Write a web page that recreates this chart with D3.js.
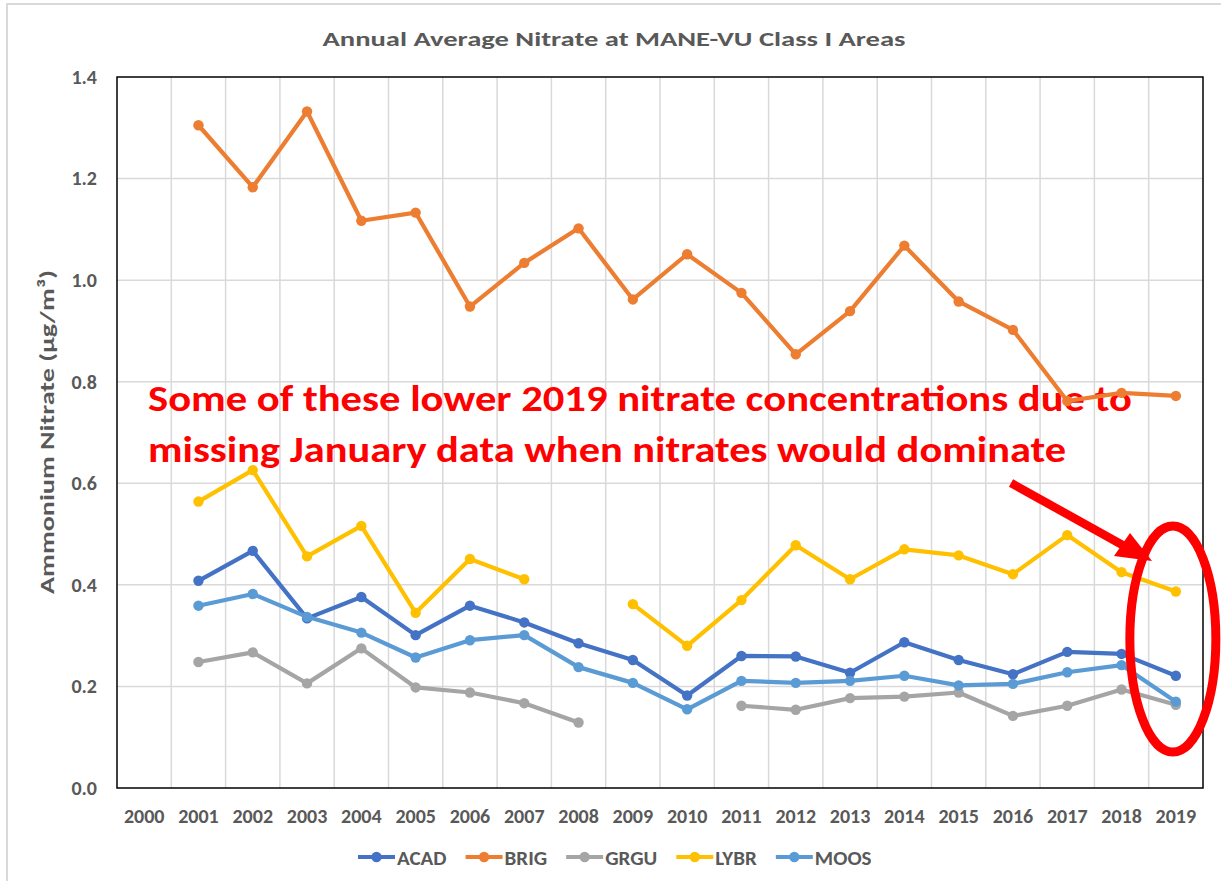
<!DOCTYPE html>
<html>
<head>
<meta charset="utf-8">
<script src="https://cdn.jsdelivr.net/npm/d3@7"></script>
<style>
  html, body { margin: 0; padding: 0; background: #fff; }
  svg { display: block; }
  text { font-family: Calibri, Carlito, "Open Sans", sans-serif; }
</style>
</head>
<body>
<div id="chart"></div>
<script>
// values
var years = ["2000", "2001", "2002", "2003", "2004", "2005", "2006", "2007", "2008", "2009",
	"2010", "2011", "2012", "2013", "2014", "2015", "2016", "2017", "2018", "2019"];
var acad = [null, 0.408, 0.467, 0.334, 0.376, 0.301, 0.359, 0.326, 0.285, 0.252,
	0.182, 0.260, 0.259, 0.227, 0.287, 0.252, 0.224, 0.268, 0.264, 0.221];
var brig = [null, 1.305, 1.183, 1.332, 1.117, 1.133, 0.948, 1.034, 1.102, 0.962,
	1.051, 0.975, 0.854, 0.939, 1.068, 0.958, 0.902, 0.762, 0.778, 0.772];
var grgu = [null, 0.248, 0.267, 0.206, 0.275, 0.198, 0.188, 0.167, 0.129, null,
	null, 0.162, 0.154, 0.177, 0.180, 0.188, 0.142, 0.162, 0.194, 0.164];
var lybr = [null, 0.564, 0.626, 0.456, 0.516, 0.345, 0.451, 0.411, null, 0.362,
	0.280, 0.370, 0.478, 0.411, 0.470, 0.458, 0.421, 0.498, 0.425, 0.387];
var moos = [null, 0.359, 0.382, 0.337, 0.306, 0.257, 0.291, 0.301, 0.238, 0.207,
	0.155, 0.211, 0.207, 0.211, 0.221, 0.202, 0.205, 0.228, 0.242, 0.170];
var seriesNames = ["ACAD", "BRIG", "GRGU", "LYBR", "MOOS"];
var yTicks = [0, 0.2, 0.4, 0.6, 0.8, 1.0, 1.2, 1.4];

var chartTitle = "Annual Average Nitrate at MANE-VU Class I Areas",
	yTitle = "Ammonium Nitrate (\u00b5g/m\u00b3)",
	note = ["Some of these lower 2019 nitrate concentrations due to",
		"missing January data when nitrates would dominate"];

var colors = { ACAD: "#4472C4", BRIG: "#ED7D31", GRGU: "#A5A5A5", LYBR: "#FFC000", MOOS: "#5B9BD5" };
var series = [acad, brig, grgu, lybr, moos].map(function(vals, i) {
	return { name: seriesNames[i], values: vals.map(function(v, j) { return { year: years[j], value: v }; }) };
});

var W = 1221, H = 881,
	margin = { top: 77, right: 18, bottom: 93, left: 117 },
	textGray = "#595959",
	gridGray = "#D9D9D9";

var svg = d3.select("#chart").append("svg")
	.attr("width", W)
	.attr("height", H);

// outer chart frame
svg.append("rect")
	.attr("x", 7).attr("y", 4)
	.attr("width", W + 20).attr("height", H + 20)
	.attr("fill", "none")
	.attr("stroke", gridGray)
	.attr("stroke-width", 2);

var x = d3.scaleBand()
	.domain(years)
	.range([margin.left, W - margin.right])
	.padding(0);
var y = d3.scaleLinear()
	.domain([0, 1.4])
	.range([H - margin.bottom, margin.top]);
var cx = function(d) { return x(d.year) + x.bandwidth() / 2; };

// gridlines
svg.append("g")
	.selectAll("line.h")
	.data(yTicks.slice(1, -1))
	.join("line")
	.attr("x1", margin.left).attr("x2", W - margin.right)
	.attr("y1", function(d) { return y(d); }).attr("y2", function(d) { return y(d); })
	.attr("stroke", gridGray).attr("stroke-width", 1.5);
svg.append("g")
	.selectAll("line.v")
	.data(years.slice(1))
	.join("line")
	.attr("x1", function(d) { return x(d); }).attr("x2", function(d) { return x(d); })
	.attr("y1", margin.top).attr("y2", H - margin.bottom)
	.attr("stroke", gridGray).attr("stroke-width", 1.5);

// axes
var yAxis = svg.append("g")
	.attr("transform", "translate(" + margin.left + ",0)")
	.call(d3.axisLeft(y).tickValues(yTicks).tickFormat(d3.format(".1f")).tickSize(0).tickPadding(20));
var xAxis = svg.append("g")
	.attr("transform", "translate(0," + (H - margin.bottom) + ")")
	.call(d3.axisBottom(x).tickSize(0).tickPadding(21));
[xAxis, yAxis].forEach(function(g) {
	g.select(".domain").remove();
	g.selectAll("text")
		.attr("fill", textGray)
		.style("font-size", "20px")
		.style("font-weight", "bold");
});

// plot area border
svg.append("rect")
	.attr("x", margin.left).attr("y", margin.top)
	.attr("width", W - margin.right - margin.left)
	.attr("height", H - margin.bottom - margin.top)
	.attr("fill", "none")
	.attr("stroke", "#000")
	.attr("stroke-width", 1.5);

// titles
svg.append("text")
	.attr("x", 614).attr("y", 46)
	.attr("text-anchor", "middle")
	.attr("fill", textGray)
	.attr("textLength", 583)
	.attr("lengthAdjust", "spacingAndGlyphs")
	.style("font-size", "21px")
	.style("font-weight", "bold")
	.text(chartTitle);
svg.append("text")
	.attr("transform", "translate(54," + 432 + ") rotate(-90)")
	.attr("text-anchor", "middle")
	.attr("fill", textGray)
	.attr("textLength", 324)
	.attr("lengthAdjust", "spacingAndGlyphs")
	.style("font-size", "21px")
	.style("font-weight", "bold")
	.text(yTitle);

// annotation text sits under the series
var noteWidths = [984, 918];
svg.append("g")
	.selectAll("text")
	.data(note)
	.join("text")
	.attr("x", 148)
	.attr("y", function(d, i) { return 411 + i * 51; })
	.attr("fill", "#FF0000")
	.attr("textLength", function(d, i) { return noteWidths[i]; })
	.attr("lengthAdjust", "spacingAndGlyphs")
	.style("font-size", "37px")
	.style("font-weight", "bold")
	.text(function(d) { return d; });

// series
var line = d3.line()
	.defined(function(d) { return d.value != null; })
	.x(cx)
	.y(function(d) { return y(d.value); });

var sg = svg.append("g")
	.selectAll("g")
	.data(series)
	.join("g");
sg.append("path")
	.attr("fill", "none")
	.attr("stroke", function(d) { return colors[d.name]; })
	.attr("stroke-width", 4.2)
	.attr("stroke-linejoin", "round")
	.attr("d", function(d) { return line(d.values); });
sg.selectAll("circle")
	.data(function(d) { return d.values.filter(function(p) { return p.value != null; }).map(function(p) { return { p: p, c: colors[d.name] }; }); })
	.join("circle")
	.attr("cx", function(d) { return cx(d.p); })
	.attr("cy", function(d) { return y(d.p.value); })
	.attr("r", 5.2)
	.attr("fill", function(d) { return d.c; });

// legend
var legend = svg.append("g");
var lx = 358;
seriesNames.forEach(function(name) {
	var g = legend.append("g").attr("transform", "translate(" + lx + ",857)");
	g.append("line").attr("x1", 0).attr("x2", 37)
		.attr("stroke", colors[name]).attr("stroke-width", 4.2);
	g.append("circle").attr("cx", 18.5).attr("r", 5.2).attr("fill", colors[name]);
	var t = g.append("text")
		.attr("x", 39).attr("y", 7.5)
		.attr("fill", textGray)
		.style("font-size", "21px")
		.style("font-weight", "bold")
		.text(name);
	lx += 39 + t.node().getComputedTextLength() + 19;
});

// red callout: arrow and ellipse around 2019
var red = "#FF0000";
svg.append("line")
	.attr("x1", 1011).attr("y1", 483)
	.attr("x2", 1126).attr("y2", 547)
	.attr("stroke", red).attr("stroke-width", 8.5);
svg.append("polygon")
	.attr("points", "1152,561 1114,556 1130,533")
	.attr("fill", red);
svg.append("ellipse")
	.attr("cx", x("2019") + x.bandwidth() / 2 - 3)
	.attr("cy", 639)
	.attr("rx", 43)
	.attr("ry", 113)
	.attr("fill", "none")
	.attr("stroke", red)
	.attr("stroke-width", 9);
</script>
</body>
</html>
